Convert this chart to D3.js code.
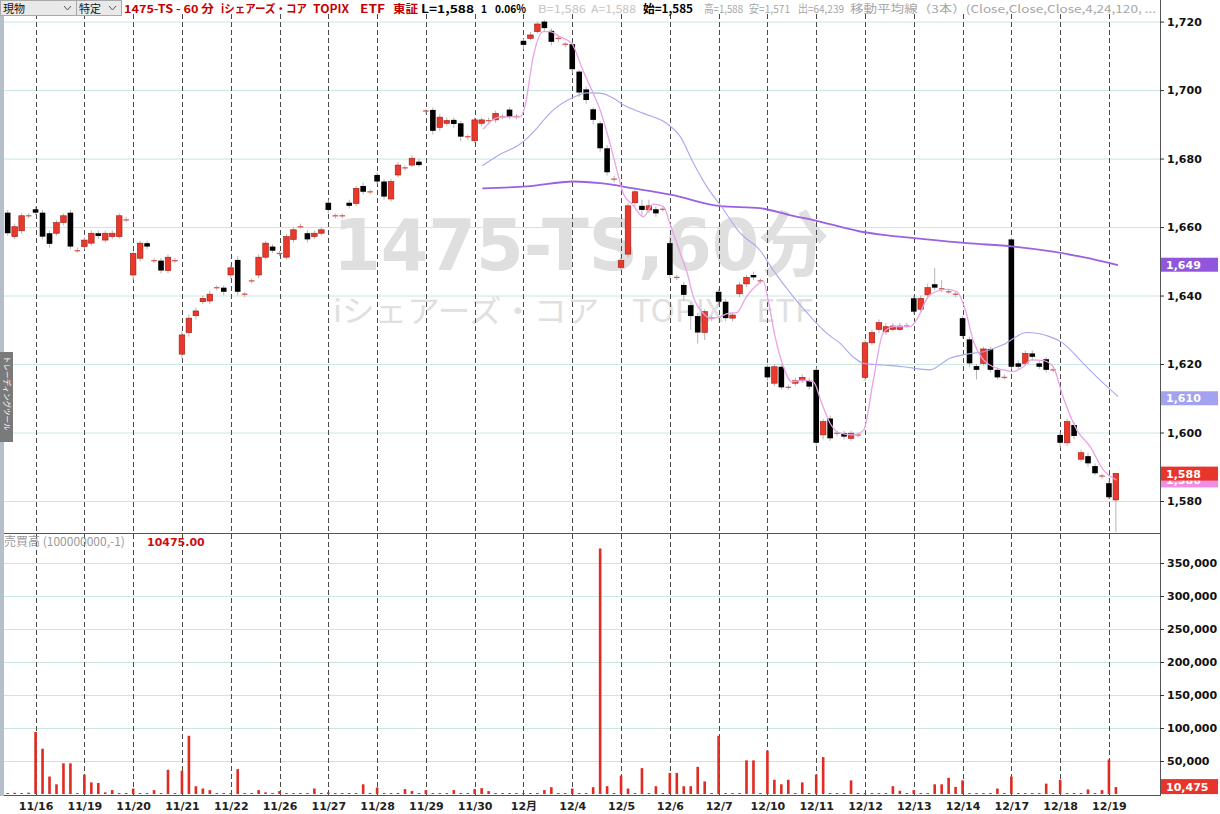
<!DOCTYPE html>
<html><head><meta charset="utf-8">
<script src="https://cdn.jsdelivr.net/npm/d3@7"></script>
<style>body{margin:0;background:#fff;} svg{display:block;font-family:"DejaVu Sans","Noto Sans CJK JP",sans-serif;}</style>
</head><body><svg id="c" width="1220" height="814"></svg>
<script>
// ---------- DATA ----------
const opens=[1664.2,1657.2,1658.9,1663.3,1665.2,1664.2,1658.2,1658.2,1661.3,1664.2,
1653.1,1654.3,1655.3,1658.2,1656.2,1657.2,1657.2,1662.1,1646.0,1650.9,
1655.3,1650.2,1650.2,1647.3,1650.2,1622.9,1629.2,1634.1,1638.2,1638.4,
1642.3,1642.3,1646.0,1650.4,1640.4,1644.3,1646.0,1651.2,1654.3,1652.3,
1651.2,1656.4,1660.1,1658.2,1657.2,1658.2,1667.1,1663.3,1663.3,1667.1,
1666.9,1672.0,1670.3,1675.2,1673.3,1668.2,1675.2,1677.3,1678.1,1679.1,
1693.9,1694.2,1689.1,1690.3,1691.3,1690.3,1686.4,1685.2,1690.3,1691.1,
1691.3,1692.2,1694.3,1692.3,1714.4,1715.1,1717.1,1720.0,1717.3,1715.1,
1713.4,1713.4,1705.4,1700.2,1694.4,1690.3,1683.0,1674.0,1648.2,1652.1,
1667.1,1666.2,1665.0,1665.2,1665.2,1655.3,1645.3,1643.1,1637.2,1634.0,
1629.2,1633.4,1641.1,1638.2,1633.4,1640.5,1643.4,1646.0,1644.3,1619.2,
1614.4,1619.2,1613.2,1614.4,1615.1,1615.1,1618.3,1599.3,1604.1,1599.8,
1599.8,1598.3,1599.3,1616.1,1626.2,1630.1,1629.4,1630.1,1630.1,1631.1,
1639.2,1636.0,1640.2,1643.3,1642.0,1641.1,1640.4,1633.4,1627.2,1619.4,
1620.2,1624.4,1618.3,1616.1,1656.4,1620.2,1620.2,1623.1,1620.2,1621.4,
1618.3,1599.3,1597.0,1602.2,1592.2,1593.1,1590.2,1587.3,1585.2,1580.3];
const closes=[1658.2,1660.1,1663.3,1663.3,1664.2,1657.2,1655.1,1661.3,1663.3,1654.3,
1653.1,1656.2,1658.2,1657.4,1658.2,1658.2,1663.3,1662.1,1652.3,1655.3,
1654.3,1650.2,1647.3,1651.2,1650.2,1628.5,1633.4,1635.5,1639.2,1640.4,
1642.3,1641.1,1648.1,1641.1,1640.4,1644.3,1651.2,1655.3,1653.1,1652.3,
1657.2,1659.2,1660.1,1656.4,1658.2,1659.2,1665.0,1663.3,1663.3,1666.2,
1671.3,1670.3,1670.3,1673.3,1668.9,1673.3,1678.1,1677.3,1680.1,1678.1,
1693.9,1688.1,1692.1,1691.1,1690.1,1686.4,1686.4,1691.3,1691.3,1691.1,
1693.2,1692.2,1692.2,1692.3,1713.2,1716.1,1719.3,1718.1,1714.1,1715.1,
1713.4,1706.1,1699.3,1697.1,1691.3,1683.0,1676.0,1674.0,1650.2,1666.2,
1670.3,1665.0,1666.2,1664.0,1665.2,1646.0,1645.3,1640.2,1634.0,1629.2,
1635.3,1633.4,1638.2,1633.4,1634.3,1643.1,1645.3,1645.3,1644.3,1616.1,
1619.2,1613.2,1613.2,1615.1,1616.1,1613.4,1597.0,1603.2,1598.3,1599.8,
1598.8,1599.8,1599.3,1626.2,1629.2,1632.1,1630.9,1631.1,1631.1,1631.1,
1635.3,1639.2,1642.3,1642.3,1642.0,1641.1,1640.4,1628.2,1620.2,1618.3,
1624.4,1618.3,1616.1,1616.1,1619.2,1619.2,1623.1,1622.1,1619.2,1618.3,
1618.3,1597.0,1603.2,1599.0,1594.1,1591.0,1588.1,1587.3,1581.1,1588.1];
const highs=[1665.0,1661.0,1664.0,1664.0,1666.0,1665.0,1659.0,1662.0,1664.0,1665.0,
1654.0,1657.0,1659.0,1659.0,1659.0,1659.0,1664.0,1663.0,1653.0,1656.0,
1656.0,1651.0,1651.0,1652.0,1651.0,1629.5,1634.5,1636.5,1640.0,1641.5,
1643.0,1643.0,1649.0,1651.5,1641.0,1645.0,1652.0,1656.0,1655.0,1653.0,
1658.0,1660.0,1661.0,1659.0,1659.0,1660.0,1668.0,1664.0,1664.0,1668.0,
1672.0,1673.0,1671.0,1676.0,1674.0,1674.0,1679.0,1678.0,1681.0,1680.0,
1694.5,1695.0,1693.0,1692.0,1692.0,1691.0,1687.0,1692.0,1692.0,1692.0,
1694.0,1693.0,1695.0,1693.0,1715.0,1717.0,1720.0,1720.5,1718.0,1716.0,
1714.0,1714.0,1706.0,1701.0,1695.0,1691.0,1684.0,1675.0,1651.0,1667.0,
1671.0,1668.0,1668.0,1666.0,1666.0,1656.0,1646.0,1644.0,1638.0,1635.0,
1636.0,1634.0,1642.0,1639.0,1635.0,1644.0,1646.0,1647.0,1645.0,1620.0,
1620.0,1620.0,1614.0,1616.0,1617.0,1616.0,1619.0,1604.0,1605.0,1600.5,
1600.5,1600.5,1600.0,1627.0,1630.0,1633.0,1632.0,1632.0,1632.0,1632.0,
1640.0,1640.0,1643.5,1648.0,1644.5,1642.0,1641.0,1634.0,1628.0,1620.0,
1625.0,1625.0,1619.0,1617.0,1657.0,1621.0,1624.0,1624.0,1621.0,1622.0,
1619.0,1600.0,1604.0,1603.0,1595.0,1594.0,1591.0,1588.0,1586.0,1588.1];
const lows=[1657.5,1656.5,1658.0,1662.5,1663.5,1656.5,1654.0,1657.5,1660.5,1653.5,
1652.5,1653.5,1654.5,1656.5,1655.5,1656.5,1656.5,1661.5,1644.5,1650.0,
1653.5,1649.5,1646.5,1646.5,1649.5,1621.5,1628.0,1633.0,1637.5,1637.5,
1641.5,1640.0,1645.0,1640.0,1639.5,1643.5,1645.0,1650.5,1652.5,1651.5,
1650.5,1655.5,1659.5,1655.5,1656.5,1657.5,1664.0,1662.5,1662.5,1665.5,
1666.0,1669.5,1669.5,1672.5,1668.0,1667.5,1674.5,1676.5,1677.5,1677.5,
1693.0,1687.0,1688.0,1689.5,1689.0,1685.0,1685.5,1684.5,1689.5,1690.0,
1690.5,1691.5,1691.5,1691.5,1712.0,1714.5,1716.5,1717.0,1713.0,1714.0,
1712.5,1705.0,1698.0,1696.0,1690.0,1682.0,1675.0,1673.0,1647.5,1651.0,
1666.0,1663.0,1664.0,1663.0,1664.5,1645.0,1644.5,1638.5,1630.0,1626.0,
1627.0,1632.5,1637.0,1632.5,1632.5,1639.5,1642.5,1644.5,1643.5,1615.0,
1613.5,1612.5,1612.5,1613.5,1614.5,1612.5,1596.0,1598.0,1597.5,1599.0,
1598.0,1597.5,1598.5,1615.0,1625.5,1629.0,1628.5,1629.5,1629.5,1630.5,
1634.5,1635.0,1639.5,1641.5,1641.0,1640.5,1639.5,1627.5,1619.0,1615.5,
1619.5,1617.5,1615.5,1615.5,1618.5,1618.5,1619.5,1621.0,1618.5,1617.5,
1617.5,1595.5,1596.0,1598.0,1591.5,1590.0,1587.5,1586.5,1580.5,1571.0];
const volumes=[1500,1800,1500,2000,
94000,68600,26500,14700,46500,46500,1500,
29400,17600,16700,2500,5900,1500,1500,
8300,1500,1500,5900,1500,36700,1500,
35300,88200,11800,8300,5900,1500,1500,
1500,37700,1500,1500,5900,2500,1500,
4400,1500,1500,1500,1500,8300,1500,
2500,1500,1500,1500,1500,14700,1500,
9800,1500,1500,1500,7400,4400,1500,
5900,1500,1500,1500,5900,1500,1500,
7400,8800,4400,1500,1500,1500,1500,
1500,1500,1500,5900,10300,1500,1500,
8300,1500,1500,10300,372000,11800,1500,
27900,8300,1500,39200,1500,11800,1500,
31900,31900,11800,11800,41200,19100,1500,
88200,1500,1500,1500,51000,51000,1500,
65700,21600,14700,21600,1500,17600,1500,
29400,55900,1500,1500,1500,20600,1500,
1500,1500,1500,1500,11800,4900,1500,
5900,1500,1500,14700,14700,24500,10800,
20600,1500,1500,1500,1500,8300,1500,
26500,1500,1500,1500,1500,15700,1500,
21600,1500,1500,1500,6900,1500,5900,
52400,10475];
const dayStart=[4,11,18,25,32,39,46,53,60,67,74,81,88,95,102,109,116,123,130,137,144,151,158];
const dayLabels=["11/16","11/19","11/20","11/21","11/22","11/26","11/27","11/28","11/29","11/30","12月","12/4","12/5","12/6","12/7","12/10","12/11","12/12","12/13","12/14","12/17","12/18","12/19"];
const priceTicks=[1580,1600,1620,1640,1660,1680,1700,1720];
const volTicks=[50000,100000,150000,200000,250000,300000,350000];
// moving averages: [bar position, value]
const maShort=[[68.2,1688.6],[70.6,1692.1],[73.5,1692.2],[74.2,1695.1],[75.4,1709.8],[76.8,1717.1],[77.8,1717.1],[79.2,1715.6],[80.9,1713.7],[82.5,1705.9],[83.8,1700.0],[85.0,1694.2],[86.4,1684.5],[87.4,1676.7],[88.3,1669.9],[89.7,1666.4],[91.2,1663.0],[92.6,1666.7],[94.1,1666.0],[95.0,1661.1],[96.5,1652.3],[97.5,1646.5],[98.4,1639.5],[99.8,1634.8],[100.8,1633.4],[102.2,1633.8],[103.4,1634.8],[104.6,1635.0],[106.0,1639.7],[107.5,1643.1],[108.4,1644.3],[109.1,1638.7],[110.1,1628.0],[111.3,1619.2],[112.5,1614.8],[114.1,1615.3],[115.6,1614.8],[116.8,1608.5],[118.0,1602.7],[119.2,1600.0],[121.3,1599.3],[122.8,1600.7],[124.2,1615.3],[125.6,1629.0],[127.1,1630.9],[129.5,1630.9],[130.4,1632.9],[132.3,1640.2],[134.7,1641.8],[136.2,1641.1],[137.4,1635.8],[138.5,1627.0],[140.0,1621.2],[141.4,1619.2],[142.8,1618.3],[144.3,1617.8],[145.7,1619.2],[146.9,1621.2],[148.6,1621.0],[150.0,1619.2],[151.4,1610.5],[153.4,1600.7],[155.3,1595.9],[157.2,1589.1],[159.1,1586.1]];
const maMid=[[68.1,1677.9],[70.6,1681.2],[73.2,1683.8],[74.4,1685.7],[75.9,1688.8],[77.3,1692.2],[78.3,1694.2],[81.2,1697.9],[83.1,1699.2],[85.0,1699.1],[86.9,1697.6],[88.3,1695.7],[91.2,1693.2],[94.5,1690.3],[96.5,1686.4],[98.4,1678.6],[100.3,1671.8],[102.4,1666.0],[105.1,1658.2],[107.9,1653.3],[109.8,1647.5],[112.7,1639.7],[115.6,1632.9],[117.5,1629.0],[119.4,1626.1],[121.3,1622.1],[122.8,1620.2],[125.6,1619.7],[128.5,1619.2],[132.3,1618.3],[135.2,1621.7],[137.6,1622.9],[140.0,1623.6],[142.8,1625.6],[146.2,1629.2],[149.5,1628.0],[151.4,1626.1],[154.3,1620.2],[157.2,1614.4],[159.3,1610.5]];
const maLong=[[68.1,1671.3],[74.5,1671.9],[81.2,1673.3],[85.0,1672.8],[89.8,1671.3],[95.3,1669.4],[102.2,1666.1],[107.9,1665.5],[112.2,1663.5],[116.5,1661.6],[122.3,1658.7],[125.6,1657.7],[130.4,1656.7],[137.6,1655.3],[144.3,1654.3],[150.0,1652.8],[154.3,1651.2],[159.3,1648.9]];
const tags=[{v:"1,649",y:1649,c:"#9156dc"},{v:"1,610",y:1610,c:"#a2a2f0"},{v:"1,586",y:1586,c:"#f08ee6"},{v:"1,588",y:1588,c:"#e8352c"}];
const lastVolume=10475;

// ---------- SCALES ----------
const svg=d3.select("#c");
const x=d3.scaleLinear().domain([0,159]).range([7.7,1115.9]);
const yP=d3.scaleLinear().domain([1580,1720]).range([501,21.6]);
const yV=d3.scaleLinear().domain([0,350000]).range([794,563]);
const AX=1160, L=4;
const fmt=d3.format(",");

// grid
const g=svg.append("g");
g.selectAll(".hp").data(priceTicks).join("line").attr("x1",L).attr("x2",AX)
 .attr("y1",d=>yP(d)+0.5).attr("y2",d=>yP(d)+0.5).attr("stroke","#c9e7e0");
g.selectAll(".hv").data(volTicks).join("line").attr("x1",L).attr("x2",AX)
 .attr("y1",d=>yV(d)+0.5).attr("y2",d=>yV(d)+0.5).attr("stroke","#c9e7e0");

// watermark
svg.append("text").attr("x",333).attr("y",270).attr("font-size",72).attr("font-weight","bold")
 .attr("fill","#dfdfdf").attr("textLength",495).attr("lengthAdjust","spacingAndGlyphs").text("1475-TS,60分");
svg.append("text").attr("x",333).attr("y",322).attr("font-size",31)
 .attr("fill","#e0e0e0").attr("font-family","Noto Sans CJK JP").attr("textLength",480).attr("lengthAdjust","spacingAndGlyphs").text("iシェアーズ・コア　TOPIX　ETF");

// dashed verticals
svg.selectAll(".dv").data(dayStart).join("line").attr("x1",d=>Math.round(x(d))+0.5).attr("x2",d=>Math.round(x(d))+0.5)
 .attr("y1",14).attr("y2",795).attr("stroke","#4a4a4a").attr("stroke-dasharray","5,3");

// candles
const idx=d3.range(opens.length);
const cg=svg.append("g");
cg.selectAll(".wk").data(idx).join("line").attr("x1",i=>x(i)).attr("x2",i=>x(i))
 .attr("y1",i=>yP(highs[i])).attr("y2",i=>yP(lows[i])).attr("stroke","#b5b5b5").attr("stroke-width",1);
const bw=5.6;
cg.selectAll(".bd").data(idx).join("rect")
 .attr("x",i=>x(i)-bw/2).attr("width",bw)
 .attr("y",i=>opens[i]===closes[i]?yP(opens[i])-0.6:yP(Math.max(opens[i],closes[i])))
 .attr("height",i=>opens[i]===closes[i]?1.3:Math.max(1.3,Math.abs(yP(opens[i])-yP(closes[i]))))
 .attr("fill",i=>opens[i]===closes[i]?"#d8584f":(closes[i]>opens[i]?"#e8392c":"#000"))
 .attr("stroke",i=>(closes[i]>opens[i])?"#a01810":"none").attr("stroke-width",0.6);

// moving averages
const line=d3.line().x(d=>x(d[0])).y(d=>yP(d[1])).curve(d3.curveMonotoneX);
svg.append("path").attr("d",line(maLong)).attr("fill","none").attr("stroke","#9a62e0").attr("stroke-width",1.8);
svg.append("path").attr("d",line(maMid)).attr("fill","none").attr("stroke","#a8a8ee").attr("stroke-width",1.1);
svg.append("path").attr("d",line(maShort)).attr("fill","none").attr("stroke","#eaa2e6").attr("stroke-width",1.3);

// volume bars
svg.selectAll(".vb").data(idx).join("rect").attr("x",i=>x(i)-1.3).attr("width",2.6)
 .attr("y",i=>yV(volumes[i])).attr("height",i=>Math.max(1,yV(0)-yV(volumes[i]))).attr("fill","#df2b22");

// frame lines
svg.append("rect").attr("x",0).attr("y",14).attr("width",L).attr("height",782).attr("fill","#b4bfcb");
svg.append("line").attr("x1",L).attr("x2",AX).attr("y1",533.5).attr("y2",533.5).attr("stroke","#555");
svg.append("line").attr("x1",L).attr("x2",AX).attr("y1",795.5).attr("y2",795.5).attr("stroke","#555");
svg.append("line").attr("x1",AX+0.5).attr("x2",AX+0.5).attr("y1",0).attr("y2",796).attr("stroke","#555");

// left tab
svg.append("rect").attr("x",0).attr("y",352).attr("width",13).attr("height",90).attr("fill","#7a7a7a");
svg.append("text").attr("transform","translate(4,356) rotate(90)").attr("font-size",7.5).attr("fill","#fff")
 .attr("font-family","Noto Sans CJK JP").text("トレーディングツール");

// right axes
const ra=svg.append("g").attr("transform",`translate(${AX},0)`)
 .call(d3.axisRight(yP).tickValues(priceTicks).tickSize(4).tickPadding(3).tickFormat(fmt));
const rv=svg.append("g").attr("transform",`translate(${AX},0)`)
 .call(d3.axisRight(yV).tickValues(volTicks).tickSize(4).tickPadding(3).tickFormat(fmt));
[ra,rv].forEach(a=>{a.select(".domain").remove();a.selectAll("text").attr("font-size",11).attr("font-weight","bold").attr("fill","#111").attr("font-family","DejaVu Sans");a.selectAll("line").attr("stroke","#333");});

// value tags
tags.forEach(t=>{
  const yy=yP(t.y);
  svg.append("rect").attr("x",AX+1).attr("y",yy-7).attr("width",57).attr("height",14).attr("fill",t.c);
  svg.append("text").attr("x",AX+6).attr("y",yy+4).attr("font-size",11).attr("font-weight","bold").attr("fill","#fff").text(t.v);
});
{
  const yy=yV(lastVolume)-1;
  svg.append("rect").attr("x",AX+1).attr("y",yy-7).attr("width",57).attr("height",15).attr("fill","#e8352c");
  svg.append("text").attr("x",AX+6).attr("y",yy+4.5).attr("font-size",11).attr("font-weight","bold").attr("fill","#fff").text(fmt(lastVolume));
}

// bottom axis
const ba=svg.append("g").attr("transform","translate(0,797)")
 .call(d3.axisBottom(x).tickValues(dayStart).tickSize(0).tickPadding(5).tickFormat((d,i)=>dayLabels[i]));
ba.select(".domain").remove();
ba.selectAll("text").attr("font-size",11).attr("font-weight","bold").attr("fill","#222").attr("font-family","DejaVu Sans, Noto Sans CJK JP");

// volume header
svg.append("text").attr("x",4).attr("y",546).attr("font-size",12).attr("fill","#9a9a9a").attr("font-family","Noto Sans CJK JP").text("売買高 (100000000,-1)");
svg.append("text").attr("x",147).attr("y",546).attr("font-size",11).attr("font-weight","bold").attr("fill","#cc1111").text("10475.00");

// top header
const hd=svg.append("g");
hd.append("rect").attr("x",0).attr("y",0).attr("width",AX).attr("height",14).attr("fill","#fff");
[[0,76,"現物"],[76,45,"特定"]].forEach(([bx,bwid,t])=>{
  hd.append("rect").attr("x",bx+0.5).attr("y",0.5).attr("width",bwid).attr("height",15).attr("fill","#e9e9e9").attr("stroke","#a8a8a8");
  hd.append("text").attr("x",bx+3).attr("y",13).attr("font-size",11).attr("font-family","Noto Sans CJK JP").attr("fill","#111").text(t);
  hd.append("path").attr("d",`M${bx+bwid-12},6 l3.5,4 l3.5,-4`).attr("fill","none").attr("stroke","#555");
});
const hdr=[
 [124,90,"1475-TS - 60 分","#c40000",1],[221,86,"iシェアーズ・コア","#c40000",1],[313,36,"TOPIX","#c40000",1],
 [360,25,"ETF","#c40000",1],[393,25,"東証","#c40000",1],[421,53,"L=1,588","#000",1],[481,6,"1","#000",1],
 [495,31,"0.06%","#000",1],[538,48,"B=1,586","#c4c4c4",0],[591,45,"A=1,588","#c4c4c4",0],
 [643,50,"始=1,585","#000",1],[704,39,"高=1,588","#a6a6a6",0],[749,41,"安=1,571","#a6a6a6",0],
 [798,46,"出=64,239","#a6a6a6",0],[850,306,"移動平均線（3本）(Close,Close,Close,4,24,120, ...","#a6a6a6",0]];
hdr.forEach(([hx,hw,t,c,b])=>{
  hd.append("text").attr("x",hx).attr("y",12.5).attr("font-size",11).attr("font-family","Noto Sans CJK JP")
   .attr("font-weight",b?"bold":"normal").attr("fill",c).attr("textLength",hw).attr("lengthAdjust","spacingAndGlyphs").text(t);
});
</script></body></html>
